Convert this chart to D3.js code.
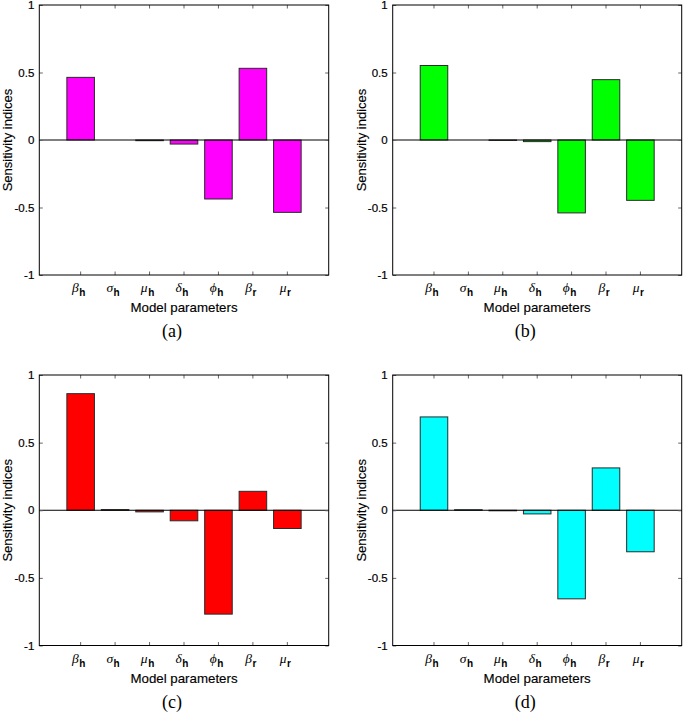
<!DOCTYPE html>
<html>
<head>
<meta charset="utf-8">
<script src="https://cdn.jsdelivr.net/npm/d3@7"></script>
<style>
html,body{margin:0;padding:0;background:#fff;}
svg{display:block;}
</style>
</head>
<body>
<svg id="chart" width="685" height="713"></svg>
<script>
// ---- data ----
const paramSymbols = ["β", "σ", "μ", "δ", "ϕ", "β", "μ"];
const paramSubs    = ["h", "h", "h", "h", "h", "r", "r"];
const yTicks = [-1, -0.5, 0, 0.5, 1];
const yTickLabels = ["-1", "-0.5", "0", "0.5", "1"];
const valuesA = [0.464, 0.0, -0.005, -0.030, -0.437, 0.531, -0.536];
const valuesB = [0.552, 0.0, -0.003, -0.012, -0.540, 0.447, -0.447];
const valuesC = [0.862, 0.005, -0.012, -0.078, -0.768, 0.140, -0.135];
const valuesD = [0.690, 0.004, -0.004, -0.027, -0.655, 0.313, -0.307];
const panelLabels = ["(a)", "(b)", "(c)", "(d)"];
const panelColors = ["#ff00ff", "#00ff00", "#ff0000", "#00ffff"];
const xLabel = "Model parameters";
const yLabel = "Sensitivity indices";

const panels = [
  {vals: valuesA, left: 39.3, top: 5, w: 289.4, h: 270},
  {vals: valuesB, left: 392.7, top: 5, w: 289, h: 270},
  {vals: valuesC, left: 39.3, top: 375, w: 289.4, h: 270.5},
  {vals: valuesD, left: 392.7, top: 375, w: 289, h: 270.5}
];

const svg = d3.select("#chart");
const sans = "'Liberation Sans', Arial, Helvetica, sans-serif";
const serif = "'Liberation Serif', 'Times New Roman', serif";
const idx = d3.range(paramSymbols.length);

panels.forEach((p, pi) => {
  const g = svg.append("g").attr("transform", `translate(${p.left},${p.top})`);
  const x = d3.scaleBand().domain(idx).range([0, p.w]).paddingInner(0.2).paddingOuter(0.8);
  const y = d3.scaleLinear().domain([-1, 1]).range([p.h, 0]);

  // bars
  g.selectAll("rect.bar").data(p.vals).enter().append("rect")
    .attr("class", "bar")
    .attr("x", (d, i) => x(i))
    .attr("width", x.bandwidth())
    .attr("y", d => y(Math.max(0, d)))
    .attr("height", d => Math.abs(y(d) - y(0)))
    .attr("fill", panelColors[pi])
    .attr("stroke", "#2a2a2a")
    .attr("stroke-width", 1);

  // baseline
  g.append("line").attr("x1", 0).attr("x2", p.w).attr("y1", y(0)).attr("y2", y(0))
    .attr("stroke", "#000").attr("stroke-width", 1);

  // inward ticks via axes
  const tl = 3.5;
  const axB = d3.axisBottom(x).tickSize(-tl).tickFormat("").tickSizeOuter(0);
  const axT = d3.axisTop(x).tickSize(-tl).tickFormat("").tickSizeOuter(0);
  const axL = d3.axisLeft(y).tickValues(yTicks).tickSize(-tl).tickFormat("").tickSizeOuter(0);
  const axR = d3.axisRight(y).tickValues(yTicks).tickSize(-tl).tickFormat("").tickSizeOuter(0);
  [[axB, `translate(0,${p.h})`], [axT, "translate(0,0)"], [axL, "translate(0,0)"], [axR, `translate(${p.w},0)`]]
    .forEach(([ax, tr]) => {
      const a = g.append("g").attr("transform", tr).call(ax);
      a.select(".domain").remove();
      a.selectAll(".tick line").attr("stroke", "#666").attr("stroke-width", 1);
    });

  // frame
  g.append("rect").attr("x", 0).attr("y", 0).attr("width", p.w).attr("height", p.h)
    .attr("fill", "none").attr("stroke", "#000").attr("stroke-width", 1);

  // y tick labels
  g.selectAll("text.ytl").data(yTicks).enter().append("text")
    .attr("class", "ytl")
    .attr("x", -5).attr("y", d => y(d)).attr("dy", "0.36em")
    .attr("text-anchor", "end")
    .attr("font-family", sans).attr("font-size", 11.5).attr("fill", "#000")
    .attr("stroke", "#000").attr("stroke-width", 0.2)
    .text((d, i) => yTickLabels[i]);

  // x tick labels (greek + subscript)
  const xt = g.selectAll("text.xtl").data(idx).enter().append("text")
    .attr("class", "xtl")
    .attr("x", i => x(i) + x.bandwidth() / 2 - 2)
    .attr("y", p.h + 17)
    .attr("text-anchor", "middle")
    .attr("fill", "#000");
  xt.append("tspan").attr("font-family", serif).attr("font-style", "italic").attr("font-size", 13.5)
    .text(i => paramSymbols[i]);
  xt.append("tspan").attr("font-family", sans).attr("font-weight", "bold").attr("font-size", 10)
    .attr("dy", 4).attr("dx", 0.5).text(i => paramSubs[i]);

  // x label
  g.append("text").attr("x", p.w / 2).attr("y", p.h + 37).attr("text-anchor", "middle")
    .attr("font-family", sans).attr("font-size", 13.3).attr("fill", "#000")
    .attr("stroke", "#000").attr("stroke-width", 0.15).text(xLabel);

  // y label
  g.append("text").attr("transform", `translate(-27,${p.h / 2}) rotate(-90)`)
    .attr("text-anchor", "middle")
    .attr("font-family", sans).attr("font-size", 13).attr("fill", "#000")
    .attr("stroke", "#000").attr("stroke-width", 0.15).text(yLabel);

  // panel label
  g.append("text").attr("x", p.w / 2 - 12).attr("y", p.h + 62).attr("text-anchor", "middle")
    .attr("font-family", serif).attr("font-size", 18).attr("fill", "#000").text(panelLabels[pi]);
});
</script>
</body>
</html>
